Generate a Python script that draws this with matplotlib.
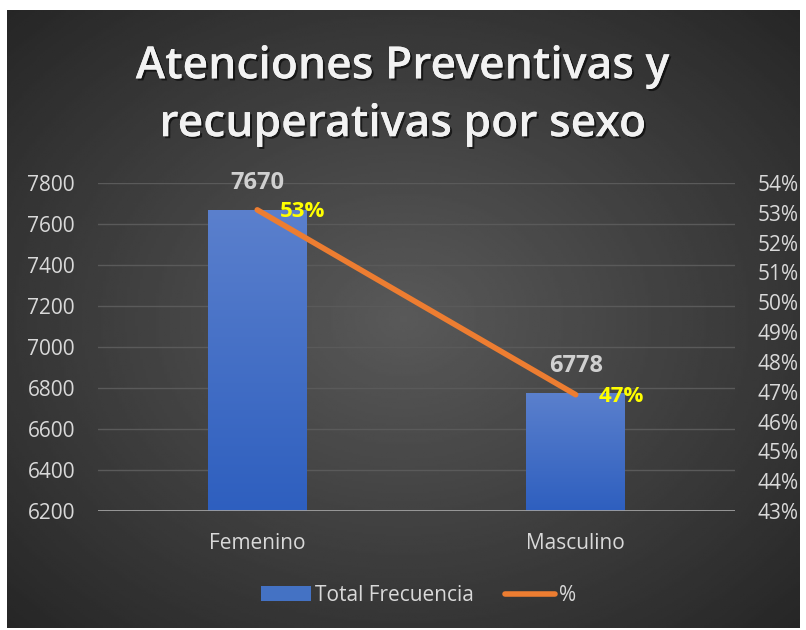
import numpy as np
import matplotlib.pyplot as plt
import matplotlib.patheffects as pe
from matplotlib.lines import Line2D
from matplotlib.patches import Patch
from matplotlib.ticker import PercentFormatter
from matplotlib.colors import LinearSegmentedColormap

# data
categorias = ["Femenino", "Masculino"]
total_frecuencia = [7670, 6778]
porcentaje = [0.531, 0.469]
etiquetas_pct = ["53%", "47%"]

plt.rcParams['font.family'] = ['Open Sans', 'DejaVu Sans']

fig = plt.figure(figsize=(8.06, 6.3), dpi=100)
fig.patch.set_facecolor("white")

# dark radial gradient background
bg = fig.add_axes([7/806, 2/630, 793/806, 618/630])
yy, xx = np.mgrid[-1:1:300j, -1:1:300j]
r = np.sqrt(xx**2 + yy**2) / np.sqrt(2)
bg.imshow(0.35 - 0.2 * r, cmap="gray", vmin=0, vmax=1, aspect="auto",
          extent=[0, 1, 0, 1])
bg.set_axis_off()

ax = fig.add_axes([98/806, 119/630, 637/806, 328/630])
ax.set_facecolor("none")
x = np.arange(len(categorias))
bars = ax.bar(x, total_frecuencia, width=0.31, color="none", zorder=2)

# gradient fill for bars
grad = np.linspace(0, 1, 256).reshape(-1, 1)
cmap_bar = LinearSegmentedColormap.from_list("b", ["#2e5fbf", "#5b80cd"])
for b in bars:
    im = ax.imshow(grad, cmap=cmap_bar, aspect="auto", origin="lower",
                   extent=[b.get_x(), b.get_x() + b.get_width(), 6200, b.get_height()],
                   zorder=2)
    im.set_clip_path(b)
ax.set_xlim(-0.5, 1.5)
ax.set_ylim(6200, 7800)

ax.set_yticks(np.arange(6200, 7801, 200))
ax.yaxis.grid(True, color="#5a5a5a", linewidth=1)
ax.set_axisbelow(True)
for s in ax.spines.values():
    s.set_visible(False)
ax.axhline(6200, color="#a0a0a0", linewidth=2, zorder=3)
ax.tick_params(axis="y", length=0, pad=16.5, labelcolor="#d9d9d9", labelsize=15)
ax.set_xticks(x)
ax.set_xticklabels(categorias)
ax.tick_params(axis="x", length=0, pad=16, labelcolor="#d9d9d9", labelsize=15)

for xi, v in zip(x, total_frecuencia):
    ax.annotate(str(v), (xi, v), xytext=(0, 27), textcoords="offset pixels",
                ha="center", va="center", color="#d0d0d0", fontsize=17,
                fontweight="bold")

ax2 = ax.twinx()
ax2.set_ylim(0.43, 0.54)
ax2.set_yticks(np.arange(0.43, 0.5401, 0.01))
ax2.yaxis.set_major_formatter(PercentFormatter(1.0, decimals=0))
ax2.tick_params(axis="y", length=0, pad=16, labelcolor="#d9d9d9", labelsize=15)
for s in ax2.spines.values():
    s.set_visible(False)
ax2.plot(x, porcentaje, color="#ed7d31", linewidth=4, solid_capstyle="round",
         zorder=4)
for xi, v, t in zip(x, porcentaje, etiquetas_pct):
    ax2.annotate(t, (xi, v), xytext=(23, -2), textcoords="offset pixels",
                 ha="left", va="center", color="#ffff00", fontsize=16,
                 fontweight="bold")

fig.text(0.5, 0.848, "Atenciones Preventivas y\nrecuperativas por sexo",
         ha="center", va="center", color="#f2f2f2", fontsize=32,
         fontweight="semibold", linespacing=1.45,
         path_effects=[pe.withSimplePatchShadow(offset=(1.5, -1.5),
                                                shadow_rgbFace="black", alpha=0.6),
                       pe.Normal()])

handles = [Patch(facecolor="#4472c4", edgecolor="none"),
           Line2D([0], [0], color="#ed7d31", linewidth=4, solid_capstyle="round")]
leg = fig.legend(handles, ["Total Frecuencia", "%"], loc="center",
                 bbox_to_anchor=(0.519, 0.055), ncol=2, frameon=False,
                 fontsize=15, labelcolor="#d9d9d9", handlelength=2.4,
                 handletextpad=0.2, columnspacing=1.5)

fig.savefig("out.png", dpi=100)
